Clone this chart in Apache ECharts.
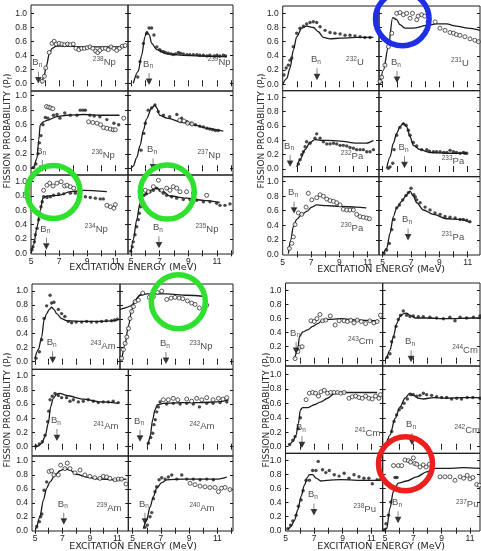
<!DOCTYPE html>
<html><head><meta charset="utf-8">
<script src="https://cdn.jsdelivr.net/npm/echarts@6/dist/echarts.min.js"></script>
<style>html,body{margin:0;padding:0;background:#fff}#c{width:481px;height:551px}</style>
</head><body><div id="c"></div>
<script>
// ---------- tick labels ----------
const xTickValues = [5,6,7,8,9,10,11,12];
const xLabelValues = [5,7,9,11];
const yTickValues = [0,0.2,0.4,0.6,0.8,1.0];
const xTitle = 'EXCITATION ENERGY (MeV)';

// ---------- data: [excitation energy (MeV), fission probability] ----------
// 238Np
const np238Curve = [[5.75,0],[5.9,0.08],[6.1,0.25],[6.3,0.42],[6.5,0.5],[6.8,0.53],[7.5,0.53],[9,0.52],[10,0.52],[11.7,0.52]];
const np238Open = [[5.8,0.03],[5.95,0.1],[6.05,0.22],[6.3,0.44],[6.5,0.57],[6.65,0.6],[6.8,0.56],[7.0,0.57],[7.2,0.56],[7.4,0.55],[7.6,0.56],[7.8,0.55],[8.0,0.56],[8.2,0.5],[8.4,0.48],[8.6,0.5],[8.8,0.5],[9.0,0.51],[9.2,0.52],[9.4,0.5],[9.6,0.46],[9.75,0.44],[9.9,0.47],[10.1,0.5],[10.3,0.5],[10.5,0.48],[10.7,0.52],[10.9,0.5],[11.1,0.47],[11.3,0.5],[11.5,0.53],[11.7,0.54]];
const np238Bn = 5.52;
// 239Np
const np239Curve = [[5.16,0],[5.5,0.17],[5.74,0.4],[5.98,0.67],[6.1,0.74],[6.28,0.69],[6.44,0.57],[6.8,0.48],[7.5,0.42],[8.65,0.4],[9.8,0.39],[11.67,0.38]];
const np239Filled = [[5.47,0.09],[5.63,0.31],[5.86,0.57],[6.09,0.71],[6.26,0.79],[6.44,0.79],[6.6,0.69],[6.8,0.52],[7.0,0.48],[7.1,0.46],[7.26,0.45],[7.4,0.44],[7.6,0.43],[7.8,0.42],[7.95,0.41],[8.1,0.42],[8.3,0.44],[8.45,0.43],[8.65,0.42],[8.9,0.41],[9.1,0.41],[9.35,0.41],[9.6,0.41],[9.8,0.4],[10.05,0.4],[10.3,0.39],[10.5,0.4],[10.8,0.39],[11.0,0.4],[11.2,0.39],[11.45,0.4],[11.6,0.39]];
const np239Bn = 6.26;
// 236Np
const np236Curve = [[5.0,0],[5.19,0.02],[5.43,0.14],[5.55,0.39],[5.66,0.6],[5.9,0.64],[6.14,0.66],[6.85,0.71],[7.56,0.73],[8.75,0.74],[9.9,0.73],[11.3,0.73]];
const np236Filled = [[5.19,0.01],[5.35,0.06],[5.5,0.2],[5.6,0.35],[5.71,0.45],[5.85,0.6],[6.02,0.7],[6.2,0.69],[6.6,0.73],[6.85,0.74],[7.06,0.69],[7.4,0.76],[7.8,0.73],[8.27,0.73],[8.5,0.8],[8.7,0.8],[8.87,0.8],[9.2,0.73],[9.5,0.72],[9.9,0.71],[10.4,0.67],[10.9,0.62],[11.24,0.6]];
const np236Open = [[6.1,0.85],[6.25,0.84],[6.4,0.83],[6.55,0.82],[9.1,0.64],[9.4,0.63],[9.7,0.62],[9.95,0.6],[10.17,0.56],[10.4,0.55],[10.65,0.54],[10.85,0.53],[11.0,0.53],[11.6,0.69]];
const np236Bn = 5.8;
// 237Np
const np237Curve = [[5.0,0],[5.16,0.03],[5.4,0.15],[5.63,0.31],[5.86,0.52],[6.09,0.68],[6.44,0.83],[6.67,0.87],[6.8,0.83],[7.0,0.73],[7.5,0.69],[8.65,0.63],[9.5,0.59],[10.3,0.55],[11.44,0.51]];
const np237Filled = [[5.7,0.25],[5.9,0.48],[6.0,0.62],[6.2,0.8],[6.44,0.83],[6.67,0.87],[6.9,0.78],[7.26,0.73],[7.7,0.71],[8.2,0.74],[8.53,0.69],[8.9,0.64],[9.2,0.62],[9.5,0.6],[9.8,0.58],[10.05,0.57],[10.3,0.55],[10.5,0.54],[10.7,0.53],[10.9,0.52],[11.1,0.52]];
const np237Open = [[8.4,0.66],[8.7,0.65],[8.95,0.62],[9.25,0.61]];
const np237Bn = 6.54;
// 234Np
const np234Curve = [[5.0,0],[5.19,0.12],[5.43,0.37],[5.66,0.6],[5.85,0.77],[6.14,0.8],[6.97,0.81],[7.8,0.86],[8.75,0.88],[10.4,0.86]];
const np234Filled = [[5.07,0.05],[5.14,0.09],[5.24,0.16],[5.31,0.26],[5.43,0.35],[5.55,0.47],[5.62,0.56],[5.71,0.65],[5.8,0.72],[5.9,0.79],[6.14,0.78],[6.38,0.79],[6.61,0.81],[6.97,0.83],[7.33,0.83],[7.8,0.84],[8.16,0.84],[8.5,0.82],[8.87,0.79],[9.22,0.78],[9.58,0.77],[9.93,0.76],[10.15,0.76]];
const np234Open = [[5.9,0.88],[6.14,0.95],[6.33,0.98],[6.57,0.94],[6.85,0.98],[7.14,1.0],[7.38,0.94],[7.56,0.95],[7.8,0.93],[8.04,0.91],[10.4,0.67],[10.65,0.65],[10.9,0.63],[11.0,0.68]];
const np234Bn = 6.09;
// 235Np
const np235Curve = [[5.0,0.02],[5.16,0.19],[5.4,0.47],[5.63,0.7],[5.86,0.81],[6.33,0.88],[6.8,0.91],[7.26,0.86],[7.7,0.8],[8.88,0.77],[10.05,0.74],[11.2,0.71]];
const np235Filled = [[4.98,0.03],[5.09,0.09],[5.16,0.16],[5.28,0.26],[5.4,0.37],[5.51,0.47],[5.58,0.56],[5.67,0.65],[5.79,0.74],[5.91,0.81],[6.09,0.83],[6.33,0.86],[6.56,0.88],[6.79,0.91],[7.02,0.88],[7.26,0.84],[7.49,0.81],[7.84,0.79],[8.19,0.77],[8.65,0.75],[9.12,0.75],[9.58,0.74],[10.05,0.72],[10.51,0.72],[10.98,0.7],[11.21,0.67],[11.56,0.67],[11.91,0.69]];
const np235Open = [[6.0,0.88],[6.21,0.86],[6.56,0.93],[6.91,1.02],[7.14,0.88],[7.49,0.91],[7.72,0.88],[7.95,0.93],[8.19,0.91],[8.42,0.86],[8.88,0.86],[9.35,0.84],[10.28,0.81]];
const np235Bn = 6.95;
// 232U
const u232Curve = [[5.0,0],[5.28,0.08],[5.52,0.23],[5.75,0.48],[5.99,0.67],[6.34,0.79],[6.69,0.82],[7.16,0.8],[7.52,0.74],[7.87,0.66],[8.34,0.64],[9.05,0.65],[10.2,0.66],[11.4,0.66]];
const u232Filled = [[5.09,0.13],[5.24,0.23],[5.4,0.27],[5.52,0.34],[5.64,0.37],[5.75,0.53],[5.99,0.72],[6.22,0.79],[6.46,0.82],[6.69,0.85],[6.93,0.87],[7.16,0.88],[7.4,0.87],[7.64,0.81],[7.99,0.76],[8.34,0.73],[8.69,0.72],[9.05,0.71],[9.4,0.69],[9.75,0.69],[10.1,0.68],[10.46,0.67],[10.8,0.66],[11.16,0.66]];
const u232Bn = 7.42;
// 231U
const u231Curve = [[4.8,0],[5.05,0.2],[5.4,0.53],[5.7,0.94],[5.99,0.91],[6.22,0.84],[6.58,0.79],[7.16,0.79],[8.1,0.83],[8.8,0.85],[9.5,0.85],[10.2,0.82],[11.0,0.79],[11.87,0.76]];
const u231Open = [[4.81,0.04],[4.93,0.1],[5.16,0.27],[5.4,0.53],[5.64,0.72],[5.99,1.0],[6.22,1.01],[6.46,0.98],[6.69,1.0],[6.93,0.93],[7.1,1.0],[7.4,0.91],[7.5,0.96],[7.75,0.98],[7.95,0.96],[8.2,0.88],[8.7,0.88],[9.04,0.79],[9.4,0.76],[9.75,0.73],[9.99,0.72],[10.2,0.7],[10.45,0.69],[10.8,0.67],[11.16,0.64],[11.5,0.62],[11.75,0.6]];
const u231Bn = 6.01;
// 232Pa
const pa232Curve = [[5.99,0.03],[6.22,0.13],[6.58,0.27],[6.93,0.37],[7.28,0.41],[7.64,0.4],[8.1,0.4],[9.05,0.39],[10.2,0.36],[10.9,0.36],[11.4,0.4]];
const pa232Filled = [[6.11,0.07],[6.22,0.13],[6.34,0.2],[6.46,0.24],[6.58,0.31],[6.69,0.38],[6.93,0.36],[7.28,0.43],[7.4,0.49],[7.64,0.43],[7.87,0.38],[8.11,0.35],[8.34,0.35],[8.58,0.36],[8.81,0.35],[9.05,0.33],[9.28,0.33],[9.52,0.32],[9.75,0.3],[9.99,0.29],[10.22,0.27],[10.46,0.27],[10.69,0.27],[10.93,0.24],[11.16,0.24],[11.4,0.27]];
const pa232Bn = 5.52;
// 233Pa
const pa233Curve = [[5.28,0.01],[5.52,0.17],[5.75,0.36],[5.99,0.5],[6.22,0.59],[6.46,0.64],[6.69,0.59],[6.93,0.45],[7.16,0.33],[7.64,0.27],[8.34,0.23],[9.5,0.22],[10.9,0.22]];
const pa233Filled = [[5.4,0.01],[5.52,0.03],[5.71,0.08],[5.8,0.27],[5.99,0.47],[6.22,0.58],[6.46,0.63],[6.65,0.61],[6.81,0.54],[6.93,0.47],[7.16,0.37],[7.4,0.32],[7.75,0.27],[8.11,0.27],[8.3,0.25],[8.58,0.24],[8.8,0.24],[9.05,0.24],[9.3,0.23],[9.52,0.23],[9.75,0.26],[9.99,0.24],[10.2,0.23],[10.46,0.22],[10.69,0.23],[10.8,0.22],[10.93,0.22]];
const pa233Bn = 6.54;
// 230Pa
const pa230Curve = [[5.4,0.01],[5.57,0.2],[5.75,0.38],[5.99,0.48],[6.34,0.55],[6.69,0.59],[7.05,0.65],[7.4,0.68],[8.1,0.67],[9.05,0.66],[10.2,0.65],[10.9,0.64]];
const pa230Open = [[5.47,0.08],[5.64,0.15],[5.75,0.24],[5.87,0.41],[6.11,0.57],[6.34,0.55],[6.65,0.65],[6.81,0.84],[7.05,0.75],[7.4,0.78],[7.64,0.82],[7.87,0.8],[8.11,0.76],[8.34,0.74],[8.58,0.73],[8.81,0.71],[9.05,0.68],[9.28,0.62],[9.52,0.61],[9.75,0.61],[9.99,0.61],[10.22,0.55],[10.46,0.52],[10.69,0.51],[10.93,0.5],[11.12,0.49]];
const pa230Bn = 5.8;
// 231Pa
const pa231Curve = [[5.05,0.01],[5.28,0.08],[5.52,0.29],[5.75,0.52],[5.99,0.64],[6.34,0.73],[6.69,0.82],[6.93,0.87],[7.16,0.8],[7.4,0.71],[7.87,0.61],[8.58,0.55],[9.52,0.49],[10.46,0.48],[11.16,0.44]];
const pa231Filled = [[5.09,0.01],[5.28,0.06],[5.47,0.15],[5.64,0.34],[5.8,0.48],[5.99,0.64],[6.18,0.68],[6.41,0.75],[6.65,0.81],[6.81,0.85],[7.0,0.91],[7.2,0.82],[7.3,0.79],[7.4,0.75],[7.64,0.71],[7.99,0.65],[8.34,0.61],[8.69,0.57],[9.05,0.55],[9.4,0.52],[9.75,0.51],[10.11,0.5],[10.46,0.48],[10.69,0.48],[10.93,0.47],[11.16,0.45]];
const pa231Bn = 6.79;
// 243Am
const am243Curve = [[5.0,0.05],[5.24,0.17],[5.49,0.35],[5.66,0.59],[5.85,0.68],[6.04,0.74],[6.21,0.77],[6.38,0.74],[6.58,0.68],[6.94,0.61],[7.3,0.58],[8.52,0.57],[9.73,0.57],[10.95,0.58]];
const am243Filled = [[5.07,0.05],[5.32,0.14],[5.49,0.31],[5.66,0.61],[5.85,0.79],[6.1,0.94],[6.21,0.83],[6.38,0.84],[6.7,0.74],[6.94,0.68],[7.18,0.64],[7.43,0.57],[7.67,0.55],[8.0,0.56],[8.4,0.56],[8.76,0.57],[9.1,0.56],[9.5,0.56],[9.85,0.57],[10.2,0.58],[10.58,0.58],[10.8,0.59],[11.0,0.6]];
const am243Bn = 6.29;
// 233Np
const np233Curve = [[4.22,0.02],[4.45,0.24],[4.69,0.5],[4.93,0.73],[5.16,0.87],[5.52,0.94],[6.0,0.96],[7.41,0.96],[8.83,0.94],[10.25,0.92]];
const np233Stub = [[4.1,0.74],[4.93,0.8],[5.4,0.92],[5.64,0.96]];
const np233Open = [[4.22,0.05],[4.34,0.17],[4.46,0.26],[4.58,0.35],[4.7,0.47],[4.81,0.61],[4.93,0.71],[5.05,0.78],[5.17,0.85],[5.4,0.87],[5.71,0.97],[6.18,0.91],[6.47,0.92],[6.75,0.98],[7.06,1.0],[7.41,0.88],[7.72,0.9],[8.0,0.91],[8.29,0.9],[8.55,0.89],[8.88,0.86],[9.18,0.83],[9.42,0.81],[9.73,0.76],[10.25,0.8]];
const np233Bn = 7.36;
// 241Am
const am241Curve = [[5.0,0],[5.24,0.01],[5.49,0.05],[5.73,0.14],[5.97,0.33],[6.14,0.56],[6.33,0.68],[6.58,0.74],[6.82,0.75],[7.3,0.72],[8.52,0.67],[9.73,0.63],[11.07,0.61]];
const am241Filled = [[5.07,0.01],[5.32,0.04],[5.53,0.07],[5.73,0.16],[5.92,0.35],[6.0,0.5],[6.1,0.66],[6.26,0.71],[6.46,0.75],[6.7,0.72],[6.94,0.69],[7.3,0.69],[7.55,0.64],[7.8,0.66],[8.16,0.63],[8.52,0.64],[8.88,0.66],[9.25,0.64],[9.61,0.62],[9.97,0.63],[10.34,0.63],[10.7,0.64],[11.07,0.62]];
const am241Bn = 6.6;
// 242Am
const am242Curve = [[6.11,0.04],[6.23,0.14],[6.42,0.38],[6.58,0.52],[6.75,0.59],[7.17,0.61],[8.6,0.62],[9.78,0.62],[10.96,0.63],[11.8,0.66]];
const am242Filled = [[6.11,0.05],[6.28,0.13],[6.42,0.19],[6.51,0.31],[6.6,0.38],[6.7,0.49],[6.82,0.56],[6.94,0.63],[7.41,0.6],[7.88,0.61],[8.36,0.6],[8.83,0.61],[9.3,0.6],[9.73,0.56],[10.25,0.61],[10.7,0.61],[11.2,0.62],[11.67,0.63]];
const am242Open = [[7.17,0.66],[7.53,0.66],[7.88,0.68],[8.2,0.66],[8.83,0.67],[9.18,0.64],[9.54,0.68],[9.9,0.66],[10.25,0.69],[10.7,0.66],[11.08,0.68],[11.4,0.67],[11.67,0.69]];
const am242Bn = 5.52;
// 239Am
const am239Curve = [[5.12,0.03],[5.36,0.2],[5.61,0.44],[5.85,0.61],[6.09,0.7],[6.46,0.8],[6.82,0.86],[7.18,0.89],[7.55,0.87],[8.03,0.81],[8.76,0.77],[9.73,0.74],[10.7,0.73],[11.67,0.74]];
const am239Filled = [[5.12,0.06],[5.32,0.13],[5.41,0.2],[5.5,0.24],[5.66,0.58],[5.85,0.7]];
const am239Open = [[6.04,0.85],[6.21,0.86],[6.38,0.8],[6.7,0.8],[6.87,0.94],[7.18,0.89],[7.35,0.97],[7.55,0.89],[7.91,0.83],[8.28,0.87],[8.64,0.8],[9.0,0.78],[9.36,0.76],[9.73,0.75],[9.98,0.78],[10.22,0.77],[10.46,0.75],[10.83,0.73],[11.07,0.74],[11.31,0.74],[11.63,0.67],[11.9,0.68]];
const am239Bn = 7.1;
// 240Am
const am240Curve = [[5.76,0.03],[5.99,0.15],[6.23,0.34],[6.47,0.49],[6.7,0.61],[7.06,0.69],[7.41,0.73],[8.6,0.74],[9.78,0.74],[10.96,0.74],[11.67,0.77]];
const am240Filled = [[5.87,0.05],[6.04,0.08],[6.23,0.2],[6.35,0.26],[6.47,0.46],[6.58,0.56],[6.7,0.63],[6.87,0.73],[7.06,0.76],[7.3,0.74],[7.53,0.77],[7.77,0.8],[8.12,0.74],[8.48,0.8],[8.83,0.74],[9.3,0.74],[9.78,0.73],[10.25,0.74],[10.72,0.73]];
const am240Open = [[9.07,0.68],[9.42,0.66],[9.78,0.64],[10.13,0.63],[10.48,0.62],[10.84,0.62],[11.08,0.56],[11.3,0.61],[11.55,0.62],[11.9,0.59]];
const am240Bn = 5.87;
// 243Cm
const cm243Curve = [[5.63,0.03],[5.86,0.15],[5.97,0.34],[6.2,0.41],[6.55,0.44],[6.9,0.49],[7.25,0.53],[7.59,0.58],[7.94,0.59],[8.87,0.6],[10.02,0.58],[11.53,0.57]];
const cm243Open = [[5.67,0.03],[5.86,0.13],[5.97,0.19],[6.16,0.2],[6.78,0.57],[7.01,0.56],[7.2,0.6],[7.41,0.66],[7.59,0.57],[7.82,0.58],[8.13,0.64],[8.47,0.51],[8.75,0.57],[9.1,0.57],[9.33,0.56],[9.56,0.58],[9.79,0.54],[10.02,0.58],[10.3,0.56],[10.6,0.53],[10.9,0.57],[11.18,0.54],[11.41,0.56],[11.64,0.65],[11.87,0.64]];
const cm243Bn = 5.74;
// 244Cm
const cm244Curve = [[5.12,0.03],[5.35,0.15],[5.59,0.34],[5.82,0.53],[6.06,0.63],[6.29,0.67],[6.53,0.68],[6.76,0.65],[7.12,0.61],[7.94,0.61],[9.35,0.6],[11.24,0.61],[11.8,0.61]];
const cm244Filled = [[5.16,0.05],[5.35,0.1],[5.47,0.27],[5.63,0.34],[5.78,0.49],[5.94,0.59],[6.1,0.65],[6.29,0.71],[6.53,0.65],[6.76,0.63],[7.0,0.64],[7.35,0.63],[7.7,0.63],[8.17,0.62],[8.64,0.61],[9.12,0.6],[9.58,0.62],[9.94,0.57],[10.3,0.62],[10.76,0.61],[11.24,0.62],[11.7,0.64]];
const cm244Bn = 6.84;
// 241Cm
const cm241Curve = [[5.28,0.02],[5.51,0.07],[5.74,0.16],[5.9,0.32],[6.04,0.51],[6.2,0.54],[6.55,0.54],[7.01,0.58],[7.48,0.62],[7.94,0.67],[8.4,0.73],[8.87,0.75],[10.02,0.75],[11.41,0.75]];
const cm241Filled = [[5.28,0.03],[5.51,0.09],[5.67,0.14],[5.9,0.25],[6.04,0.4]];
const cm241Open = [[6.44,0.65],[6.67,0.74],[6.9,0.75],[7.1,0.74],[7.31,0.7],[7.48,0.76],[7.71,0.78],[7.94,0.74],[8.17,0.75],[8.4,0.75],[8.64,0.75],[8.87,0.74],[9.1,0.75],[9.44,0.67],[9.67,0.69],[9.91,0.7],[10.14,0.68],[10.37,0.67],[10.6,0.7],[10.83,0.67],[11.06,0.66],[11.3,0.7],[11.53,0.67],[11.64,0.72]];
const cm241Bn = 6.15;
// 242Cm
const cm242Curve = [[5.12,0.05],[5.35,0.16],[5.71,0.39],[6.06,0.55],[6.41,0.67],[6.76,0.74],[7.0,0.71],[7.35,0.67],[7.71,0.66],[8.41,0.68],[9.35,0.67],[10.53,0.68],[11.7,0.68]];
const cm242Filled = [[5.07,0.02],[5.24,0.09],[5.47,0.21],[5.64,0.35],[5.82,0.44],[6.0,0.51],[6.18,0.54],[6.34,0.6],[6.58,0.66],[6.81,0.72],[7.0,0.72],[7.24,0.7],[7.47,0.71],[7.71,0.74],[7.94,0.72],[8.29,0.71],[8.64,0.69],[9.0,0.68],[9.35,0.68],[9.7,0.66],[10.06,0.67],[10.4,0.66],[10.8,0.68],[11.2,0.68],[11.7,0.67]];
const cm242Bn = 6.91;
// 238Pu
const pu238Curve = [[5.16,0.01],[5.39,0.06],[5.63,0.15],[5.86,0.3],[6.09,0.49],[6.32,0.65],[6.55,0.77],[6.67,0.8],[6.9,0.8],[7.13,0.75],[7.48,0.71],[7.94,0.72],[8.87,0.73],[10.02,0.72],[11.64,0.72]];
const pu238Filled = [[5.16,0.03],[5.35,0.08],[5.51,0.14],[5.74,0.22],[5.9,0.35],[6.09,0.44],[6.23,0.57],[6.44,0.72],[6.67,0.72],[6.9,0.86],[7.13,0.86],[7.29,0.99],[7.59,0.87],[7.82,0.83],[8.06,0.86],[8.41,0.8],[8.75,0.78],[9.1,0.82],[9.44,0.75],[9.79,0.8],[10.14,0.77],[10.48,0.75],[10.83,0.75],[11.07,0.67],[11.41,0.73],[11.64,0.73]];
const pu238Bn = 6.99;
// 237Pu
const pu237Curve = [[4.88,0.01],[5.12,0.03],[5.35,0.32],[5.59,0.56],[5.94,0.68],[6.53,0.71],[7.24,0.77],[7.94,0.84],[8.53,0.89],[9.35,0.89],[10.53,0.9],[11.7,0.89]];
const pu237Filled = [[4.93,0.01],[5.07,0.1],[5.24,0.22],[5.41,0.41],[5.59,0.6],[5.71,0.76],[5.85,0.76]];
const pu237Open = [[5.6,0.93],[5.94,0.93],[6.18,0.93],[6.41,1.01],[6.65,1.0],[6.8,0.98],[7.0,1.04],[7.1,0.96],[7.24,0.95],[7.47,0.91],[7.7,0.94],[7.9,0.91],[8.13,0.95],[8.88,0.77],[9.23,0.77],[9.58,0.77],[9.94,0.72],[10.3,0.77],[10.55,0.75],[10.8,0.79],[11.0,0.74],[11.2,0.76],[11.47,0.66],[11.66,0.65]];
const pu237Bn = 5.92;

// ---------- layout (pixel calibration of each block) ----------
const BLOCKS = {
  TL:{cols:[{l:31,r:128,x5:31,sx:14.05},{l:128,r:233,x5:131,sx:14.33}],
      rows:[{t:5,b:91,p0:83.3,sy:70},{t:91,b:175,p0:168.3,sy:72.7},{t:175,b:254,p0:253.3,sy:71.6}]},
  TR:{cols:[{l:282.7,r:379,x5:282.7,sx:14.17},{l:379,r:480,x5:382.7,sx:14.17}],
      rows:[{t:6,b:90.7,p0:84.3,sy:71},{t:90.7,b:176.7,p0:169,sy:71.7},{t:176.7,b:255,p0:254.3,sy:72.6}]},
  BL:{cols:[{l:32,r:128.3,x5:35,sx:13.72},{l:128.3,r:233,x5:132.7,sx:14.1}],
      rows:[{t:284,b:369.3,p0:361.7,sy:70.7},{t:369.3,b:456,p0:446.7,sy:71.1},{t:456,b:531,p0:530.7,sy:69.7}]},
  BR:{cols:[{l:285.5,r:382.7,x5:285.5,sx:14.3},{l:382.7,r:480,x5:385,sx:14.17}],
      rows:[{t:283,b:366,p0:360.7,sy:70},{t:366,b:453.3,p0:446.7,sy:72.3},{t:453.3,b:531,p0:530.7,sy:70}]}
};

const PANELS = [
  {b:'TL',r:0,c:0,m:'238',e:'Np',curve:np238Curve,filled:[],open:np238Open,bn:np238Bn,bnY:0.09,lab:[10.22,0.30]},
  {b:'TL',r:0,c:1,m:'239',e:'Np',curve:np239Curve,filled:np239Filled,open:[],bn:np239Bn,bnY:0.07,lab:[11.15,0.30]},
  {b:'TL',r:1,c:0,m:'236',e:'Np',curve:np236Curve,filled:np236Filled,open:np236Open,bn:np236Bn,bnY:0.04,lab:[10.15,0.18]},
  {b:'TL',r:1,c:1,m:'237',e:'Np',curve:np237Curve,filled:np237Filled,open:np237Open,bn:np237Bn,bnY:0.06,lab:[10.44,0.18]},
  {b:'TL',r:2,c:0,m:'234',e:'Np',curve:np234Curve,filled:np234Filled,open:np234Open,bn:np234Bn,bnY:0.14,lab:[9.65,0.34]},
  {b:'TL',r:2,c:1,m:'235',e:'Np',curve:np235Curve,filled:np235Filled,open:np235Open,bn:np235Bn,bnY:0.16,lab:[10.3,0.33]},
  {b:'TR',r:0,c:0,m:'232',e:'U',curve:u232Curve,filled:u232Filled,open:[],bn:u232Bn,bnY:0.15,lab:[10.1,0.31]},
  {b:'TR',r:0,c:1,m:'231',e:'U',curve:u231Curve,filled:[],open:u231Open,bn:u231Bn,bnY:0.11,lab:[10.45,0.30]},
  {b:'TR',r:1,c:0,m:'232',e:'Pa',curve:pa232Curve,filled:pa232Filled,open:[],bn:pa232Bn,bnY:0.12,lab:[9.89,0.18]},
  {b:'TR',r:1,c:1,m:'233',e:'Pa',curve:pa233Curve,filled:pa233Filled,open:[],bn:pa233Bn,bnY:0.10,lab:[9.96,0.11]},
  {b:'TR',r:2,c:0,m:'230',e:'Pa',curve:pa230Curve,filled:[],open:pa230Open,bn:pa230Bn,bnY:0.65,lab:[9.89,0.36]},
  {b:'TR',r:2,c:1,m:'231',e:'Pa',curve:pa231Curve,filled:pa231Filled,open:[],bn:pa231Bn,bnY:0.28,lab:[9.96,0.24]},
  {b:'BL',r:0,c:0,m:'243',e:'Am',curve:am243Curve,filled:am243Filled,open:[],bn:am243Bn,bnY:0.07,lab:[9.96,0.22],rr:120},
  {b:'BL',r:0,c:1,m:'233',e:'Np',curve:np233Curve,extra:np233Stub,filled:[],open:np233Open,bn:np233Bn,bnY:0.06,lab:[9.84,0.22],ll:120},
  {b:'BL',r:1,c:0,m:'241',e:'Am',curve:am241Curve,filled:am241Filled,open:[],bn:am241Bn,bnY:0.17,lab:[10.17,0.28]},
  {b:'BL',r:1,c:1,m:'242',e:'Am',curve:am242Curve,filled:am242Filled,open:am242Open,bn:am242Bn,bnY:0.16,lab:[9.91,0.28]},
  {b:'BL',r:2,c:0,m:'239',e:'Am',curve:am239Curve,filled:am239Filled,open:am239Open,bn:am239Bn,bnY:0.18,lab:[10.39,0.32]},
  {b:'BL',r:2,c:1,m:'240',e:'Am',curve:am240Curve,filled:am240Filled,open:am240Open,bn:am240Bn,bnY:0.18,lab:[9.91,0.32]},
  {b:'BR',r:0,c:0,m:'243',e:'Cm',curve:cm243Curve,filled:[],open:cm243Open,bn:cm243Bn,bnY:0.19,lab:[10.26,0.27]},
  {b:'BR',r:0,c:1,m:'244',e:'Cm',curve:cm244Curve,filled:cm244Filled,open:[],bn:cm244Bn,bnY:0.07,lab:[10.65,0.15]},
  {b:'BR',r:1,c:0,m:'241',e:'Cm',curve:cm241Curve,filled:cm241Filled,open:cm241Open,bn:cm241Bn,bnY:0.07,lab:[10.74,0.19]},
  {b:'BR',r:1,c:1,m:'242',e:'Cm',curve:cm242Curve,filled:cm242Filled,open:[],bn:cm242Bn,bnY:0.11,lab:[10.8,0.23]},
  {b:'BR',r:2,c:0,m:'238',e:'Pu',curve:pu238Curve,filled:pu238Filled,open:[],bn:pu238Bn,bnY:0.31,lab:[10.54,0.30]},
  {b:'BR',r:2,c:1,m:'237',e:'Pu',curve:pu237Curve,filled:pu237Filled,open:pu237Open,bn:pu237Bn,bnY:0.20,lab:[10.8,0.37]}
];

const INK = '#1c1c1c';
const FONT = '"Liberation Sans", Arial, sans-serif';
const ARROW = 'path://M5,0L5,12M1.5,8L5,14L8.5,8Z';

const option = {animation:false, backgroundColor:'#ffffff', grid:[], xAxis:[], yAxis:[], series:[], graphic:[]};

PANELS.forEach((p, i) => {
  const C = BLOCKS[p.b].cols[p.c], R = BLOCKS[p.b].rows[p.r];
  const l = p.ll !== undefined ? p.ll : C.l;
  const r = p.rr !== undefined ? p.rr : C.r;
  const xmin = 5 + (l - C.x5) / C.sx, xmax = 5 + (r - C.x5) / C.sx;
  const ymin = (R.p0 - R.b) / R.sy, ymax = (R.p0 - R.t) / R.sy;
  option.grid.push({left:l, top:R.t, width:r - l, height:R.b - R.t, show:true,
    borderColor:INK, borderWidth:1, backgroundColor:'transparent', containLabel:false, outerBoundsMode:'none'});
  const xt = xTickValues.filter(v => v > xmin + 0.05 && v < xmax - 0.05);
  const yt = yTickValues.filter(v => v > ymin + 0.01 && v < ymax - 0.01);
  const bottomRow = p.r === 2;
  option.xAxis.push({type:'value', gridIndex:i, min:xmin, max:xmax, position:'bottom',
    axisLine:{show:false}, splitLine:{show:false},
    axisTick:{show:true, inside:true, length:3, customValues:xt, lineStyle:{color:INK, width:1}},
    axisLabel:{show:bottomRow, customValues:xLabelValues, margin:3, fontSize:8.5, fontFamily:FONT, color:INK,
      formatter:v => String(Math.round(v))}});
  option.xAxis.push({type:'value', gridIndex:i, min:xmin, max:xmax, position:'top',
    axisLine:{show:false}, splitLine:{show:false}, axisLabel:{show:false},
    axisTick:{show:true, inside:true, length:3, customValues:xt, lineStyle:{color:INK, width:1}}});
  option.yAxis.push({type:'value', gridIndex:i, min:ymin, max:ymax, position:'left',
    axisLine:{show:false}, splitLine:{show:false},
    axisTick:{show:true, inside:true, length:3, customValues:yt, lineStyle:{color:INK, width:1}},
    axisLabel:{show:p.c === 0, customValues:yTickValues.filter(v => v >= ymin - 0.02 && v <= ymax), margin:4,
      fontSize:8.5, fontFamily:FONT, color:INK, formatter:v => v.toFixed(1)}});
  option.yAxis.push({type:'value', gridIndex:i, min:ymin, max:ymax, position:'right',
    axisLine:{show:false}, splitLine:{show:false}, axisLabel:{show:false},
    axisTick:{show:true, inside:true, length:3, customValues:yt, lineStyle:{color:INK, width:1}}});
  const ax = {xAxisIndex:2 * i, yAxisIndex:2 * i};
  option.series.push(Object.assign({type:'line', data:p.curve, showSymbol:false, smooth:0.3, smoothMonotone:'x',
    lineStyle:{color:INK, width:1.3}, silent:true, z:3}, ax));
  if (p.extra) option.series.push(Object.assign({type:'line', data:p.extra, showSymbol:false, smooth:0.2,
    lineStyle:{color:INK, width:1.2}, silent:true, z:3}, ax));
  if (p.filled.length) option.series.push(Object.assign({type:'scatter', data:p.filled, symbol:'circle', symbolSize:3.4,
    itemStyle:{color:INK}, silent:true, z:4}, ax));
  if (p.open.length) option.series.push(Object.assign({type:'scatter', data:p.open, symbol:'circle', symbolSize:4,
    itemStyle:{color:'#ffffff', borderColor:INK, borderWidth:0.9}, silent:true, z:4}, ax));
  option.series.push(Object.assign({type:'scatter', data:[[p.bn, p.bnY]], symbol:ARROW, symbolSize:[5,11],
    itemStyle:{color:INK, borderColor:INK, borderWidth:1}, silent:true, z:5,
    label:{show:true, position:'top', distance:2, offset:[-1,0], formatter:'{b|B}{s|n}',
      rich:{b:{fontSize:9.5, fontFamily:FONT, color:INK}, s:{fontSize:6.5, fontFamily:FONT, color:INK, padding:[5,0,0,0]}}}}, ax));
  option.series.push(Object.assign({type:'scatter', data:[p.lab], symbolSize:0, silent:true, z:5,
    itemStyle:{color:'transparent'},
    label:{show:true, position:'inside', formatter:'{m|' + p.m + '}{e|' + p.e + '}',
      rich:{m:{fontSize:6.5, fontFamily:FONT, color:INK, padding:[0,0,6,0]}, e:{fontSize:9.5, fontFamily:FONT, color:INK}}}}, ax));
});

// axis titles
[[133,268],[381,270],[133,547],[381,547]].forEach(([x, y]) => {
  option.graphic.push({type:'text', x:x, y:y, silent:true,
    style:{text:xTitle, font:'9.5px "DejaVu Sans", sans-serif', fill:INK, align:'center', verticalAlign:'middle',
      textAlign:'center', textVerticalAlign:'middle'}});
});
[[8,131],[262,131],[8,410],[267,410]].forEach(([x, y]) => {
  option.graphic.push({type:'text', x:x, y:y, rotation:Math.PI / 2, silent:true,
    style:{text:'{a|FISSION PROBABILITY (P}{s|f}{a|)}', align:'center', verticalAlign:'middle',
      textAlign:'center', textVerticalAlign:'middle',
      rich:{a:{font:'9px "DejaVu Sans", sans-serif', fill:INK, color:INK},
            s:{font:'6.5px "DejaVu Sans", sans-serif', fill:INK, color:INK, padding:[4,0,0,0]}}}});
});

// highlight circles (annotations drawn over the figure)
const CIRCLES = [
  {cx:53.5, cy:192, r:26.5, c:'#2fe02f'},
  {cx:167.3, cy:192, r:27, c:'#2fe02f'},
  {cx:178.3, cy:301.7, r:27, c:'#2fe02f'},
  {cx:402.3, cy:19, r:26.8, c:'#1f2fe6'},
  {cx:405.5, cy:463.7, r:27, c:'#ec1f1f'}
];
CIRCLES.forEach(o => option.graphic.push({type:'circle', z:100, silent:true,
  shape:{cx:o.cx, cy:o.cy, r:o.r}, style:{fill:'none', stroke:o.c, lineWidth:5.5}}));

const chart = echarts.init(document.getElementById('c'), null, {renderer:'canvas', width:481, height:551});
chart.setOption(option);
</script></body></html>
